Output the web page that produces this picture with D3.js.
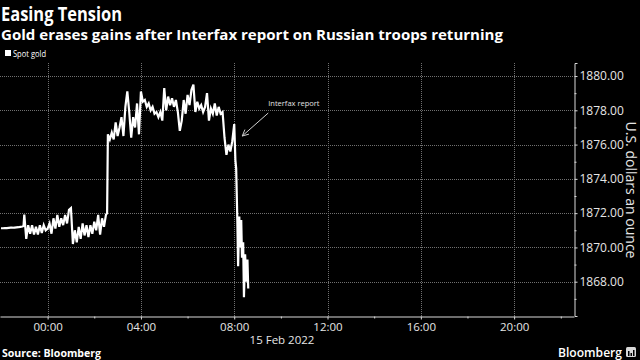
<!DOCTYPE html>
<html><head><meta charset="utf-8">
<script src="https://cdn.jsdelivr.net/npm/d3@7"></script>
<style>
html,body{margin:0;padding:0;background:#000;}
svg{display:block;}
</style></head>
<body>
<svg id="c" width="640" height="360"></svg>
<script>
// ---- data ----
const title = "Easing Tension";
const subtitle = "Gold erases gains after Interfax report on Russian troops returning";
const seriesName = "Spot gold";
const yTitle = "U.S. dollars an ounce";
const dateLabel = "15 Feb 2022";
const source = "Source: Bloomberg";
const annotationText = "Interfax report";
const annotationMinute = 480; // 08:00
// minutes relative to 00:00 on 15 Feb 2022 (negative = 14 Feb)
const minutes = [-120,-115,-110,-105,-100,-95,-90,-85,-80,-75,-70,-65,-62,-60,-55,-50,-45,-40,-35,-30,-25,-20,-15,-10,-5,
 0,5,10,15,20,25,30,35,40,45,50,55,60,65,70,75,80,85,90,95,100,105,110,115,120,125,130,135,140,145,150,153,
 155,160,165,170,175,180,185,190,195,200,205,210,215,220,225,230,235,240,245,250,255,260,265,270,275,280,285,290,295,
 300,305,310,315,320,325,330,335,340,345,350,355,360,365,370,375,380,385,390,395,400,405,410,415,420,425,430,435,440,445,450,
 455,460,465,470,475,480,483,485,488,490,493,495,498,500,503,505,508,511,514,516];
const prices = [1871.12,1871.12,1871.13,1871.13,1871.14,1871.15,1871.15,1871.16,1871.17,1871.18,1871.2,1871.22,1871.25,1871.92,1870.5,1871.3,1870.8,1871.3,1870.75,1871.2,1870.75,1871.3,1870.85,1871.3,1871.0,
 1871.1,1871.4,1870.8,1871.7,1871.1,1871.9,1871.2,1871.7,1871.3,1871.9,1871.4,1872.2,1872.3,1870.2,1871.0,1870.3,1871.2,1870.5,1871.4,1870.7,1871.3,1870.6,1871.3,1870.8,1871.5,1871.0,1871.9,1870.75,1871.7,1871.2,1871.9,1872.0,
 1876.6,1876.3,1876.7,1876.3,1877.3,1876.5,1877.0,1877.6,1876.5,1878.2,1879.1,1877.9,1876.4,1877.6,1877.0,1878.4,1876.6,1879.1,1878.5,1878.6,1878.2,1878.4,1878.0,1878.2,1877.8,1877.9,1877.6,1877.9,1877.4,
 1879.3,1878.0,1878.8,1878.3,1878.7,1878.2,1878.6,1877.9,1876.8,1877.4,1878.6,1877.8,1878.9,1878.3,1879.2,1879.5,1877.9,1878.5,1878.1,1878.3,1877.9,1878.2,1879.0,1877.4,1878.1,1877.8,1878.4,1877.7,1878.2,1877.8,1877.9,
 1876.4,1875.4,1876.0,1875.6,1876.2,1877.2,1875.1,1874.6,1871.6,1868.9,1871.8,1870.0,1871.6,1869.4,1870.3,1867.1,1869.6,1868.0,1869.3,1867.6];
const yTicks = [1868,1870,1872,1874,1876,1878,1880];
const yMinorTicks = [1867,1869,1871,1873,1875,1877,1879];
const yDomain = [1866, 1880.76];

// ---- layout ----
const svg = d3.select("#c");
const base = Date.UTC(2022,1,15,0,0);
const toDate = m => new Date(base + m*60000);
const plotL = 0, plotR = 574, plotT = 63, plotB = 316;

const x = d3.scaleUtc()
  .domain([toDate(-122.5), toDate(22*60+34)])
  .range([plotL, plotR]);
const y = d3.scaleLinear().domain(yDomain).range([plotB, plotT]);

svg.append("rect").attr("width",640).attr("height",360).attr("fill","#000");

const majorX = d3.utcHour.every(4).range(toDate(0), toDate(22*60+1));
const minorX = d3.utcHour.every(2).range(toDate(0), toDate(22*60+1)).filter(d => d.getUTCHours()%4 !== 0);

// grid
const grid = svg.append("g").attr("stroke","#707070").attr("stroke-width",1).attr("stroke-dasharray","1,1");
grid.selectAll("line.h").data(yTicks).join("line")
  .attr("x1",plotL).attr("x2",plotR)
  .attr("y1",d=>Math.round(y(d))+0.5).attr("y2",d=>Math.round(y(d))+0.5);
grid.selectAll("line.v").data(majorX).join("line")
  .attr("x1",d=>Math.round(x(d))+0.5).attr("x2",d=>Math.round(x(d))+0.5)
  .attr("y1",plotT).attr("y2",plotB);

// axes
const axisColor = "#d9d9d9";
svg.append("g").attr("transform",`translate(${plotR+0.5},0)`)
  .call(d3.axisRight(y).tickValues(yTicks).tickFormat(d3.format(".2f")).tickSize(3).tickSizeOuter(3).tickPadding(2));
svg.append("g").attr("transform",`translate(${plotR+0.5},0)`)
  .call(d3.axisRight(y).tickValues(yMinorTicks).tickFormat("").tickSize(2).tickSizeOuter(0))
  .select(".domain").remove();

const xAxis = svg.append("g").attr("transform",`translate(0,${plotB+0.5})`)
  .call(d3.axisBottom(x).tickValues(majorX).tickFormat(d3.utcFormat("%H:%M")).tickSize(3).tickSizeOuter(0).tickPadding(3));
svg.append("g").attr("transform",`translate(0,${plotB+0.5})`)
  .call(d3.axisBottom(x).tickValues(minorX).tickFormat("").tickSize(2).tickSizeOuter(0))
  .select(".domain").remove();

svg.selectAll(".domain, .tick line").attr("stroke",axisColor);
svg.selectAll(".tick text").attr("fill","#e6e6e6").attr("font-family","'Open Sans', sans-serif").attr("font-size",12);
xAxis.selectAll(".tick text").attr("font-size",11.5);

// line
const data = minutes.map((m,i)=>({t:toDate(m), v:prices[i]}));
svg.append("path").datum(data)
  .attr("fill","none").attr("stroke","#fff").attr("stroke-width",2.2).attr("stroke-linejoin","miter")
  .attr("d", d3.line().x(d=>x(d.t)).y(d=>y(d.v)));

// annotation
const ax = x(toDate(annotationMinute)), ay = y(1877.2);
const tipX = ax+8, tipY = ay+12, tailX = ax+34, tailY = ay-11;
const ann = svg.append("g").attr("stroke","#cfcfcf").attr("stroke-width",1).attr("fill","none");
ann.append("line").attr("x1",tailX).attr("y1",tailY).attr("x2",tipX).attr("y2",tipY);
const ang = Math.atan2(tailY-tipY, tailX-tipX);
[0.45,-0.45].forEach(a=>{
  ann.append("line").attr("x1",tipX).attr("y1",tipY)
    .attr("x2",tipX+7*Math.cos(ang+a)).attr("y2",tipY+7*Math.sin(ang+a));
});
svg.append("text").attr("x",tailX).attr("y",tailY-7).text(annotationText)
  .attr("fill","#e0e0e0").attr("font-family","'Open Sans', sans-serif").attr("font-size",7.5);

// titles
svg.append("text").attr("x",1).attr("y",21).text(title)
  .attr("fill","#fff").attr("font-family","'Open Sans', sans-serif").attr("font-weight",700).attr("font-size",20)
  .attr("textLength",121).attr("lengthAdjust","spacingAndGlyphs");
svg.append("text").attr("x",1).attr("y",39.5).text(subtitle)
  .attr("fill","#fff").attr("font-family","'Open Sans', sans-serif").attr("font-weight",700).attr("font-size",14)
  .attr("textLength",502).attr("lengthAdjust","spacingAndGlyphs");

// legend
svg.append("rect").attr("x",5).attr("y",50).attr("width",6).attr("height",6).attr("fill","#fff");
svg.append("text").attr("x",13).attr("y",56.5).text(seriesName)
  .attr("fill","#fff").attr("font-family","'Open Sans', sans-serif").attr("font-size",9)
  .attr("textLength",33).attr("lengthAdjust","spacingAndGlyphs");

// y title
svg.append("text").attr("transform",`translate(626,190) rotate(90)`).attr("text-anchor","middle")
  .text(yTitle).attr("fill","#e6e6e6").attr("font-family","'Open Sans', sans-serif").attr("font-size",14);

// date label
svg.append("text").attr("x",282).attr("y",344).attr("text-anchor","middle").text(dateLabel)
  .attr("fill","#e6e6e6").attr("font-family","'Open Sans', sans-serif").attr("font-size",11.5);

// footer
svg.append("text").attr("x",2).attr("y",357).text(source)
  .attr("fill","#fff").attr("font-family","'Open Sans', sans-serif").attr("font-weight",700).attr("font-size",10)
  .attr("textLength",99).attr("lengthAdjust","spacingAndGlyphs");
svg.append("text").attr("x",622).attr("y",357).attr("text-anchor","end").text("Bloomberg")
  .attr("fill","#fff").attr("font-family","'Open Sans', sans-serif").attr("font-weight",600).attr("font-size",12.5)
  .attr("textLength",64).attr("lengthAdjust","spacingAndGlyphs");
const logo = svg.append("g").attr("transform","translate(626,347)");
logo.append("rect").attr("width",10).attr("height",10).attr("rx",1.5).attr("fill","#d8d8d8");
[[2,5,1.5],[4.5,3,1.5],[7,6,1.5]].forEach(([bx,bh,bw])=>{
  logo.append("rect").attr("x",bx).attr("y",9-bh).attr("width",bw).attr("height",bh).attr("fill","#000");
});
</script>
</body></html>
